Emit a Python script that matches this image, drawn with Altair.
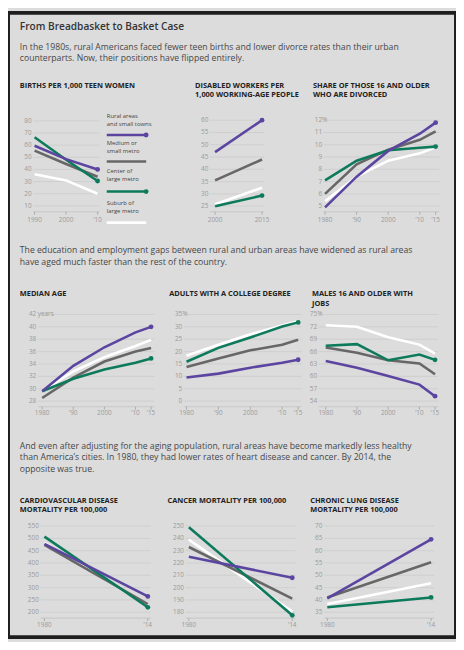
import altair as alt
import pandas as pd

FONT = "Open Sans"
OFF = 8

SERIES = ["rural", "medium", "center", "suburb"]
COLORS = {"rural": "#5b45a1", "medium": "#676767", "center": "#0c7a5b", "suburb": "#ffffff"}
DRAW_ORDER = ["suburb", "medium", "center", "rural"]
DOTTED = ["rural", "center"]
LEGEND_LABELS = [["Rural areas", "and small towns"], ["Medium or", "small metro"],
                 ["Center of", "large metro"], ["Suburb of", "large metro"]]

TITLE = "From Breadbasket to Basket Case"
PARA1 = ["In the 1980s, rural Americans faced fewer teen births and lower divorce rates than their urban",
         "counterparts. Now, their positions have flipped entirely."]
PARA2 = ["The education and employment gaps between rural and urban areas have widened as rural areas",
         "have aged much faster than the rest of the country."]
PARA3 = ["And even after adjusting for the aging population, rural areas have become markedly less healthy",
         "than America\u2019s cities. In 1980, they had lower rates of heart disease and cancer. By 2014, the",
         "opposite was true."]

PANEL_TITLES = [
    ["BIRTHS PER 1,000 TEEN WOMEN"],
    ["DISABLED WORKERS PER", "1,000 WORKING-AGE PEOPLE"],
    ["SHARE OF THOSE 16 AND OLDER", "WHO ARE DIVORCED"],
    ["MEDIAN AGE"],
    ["ADULTS WITH A COLLEGE DEGREE"],
    ["MALES 16 AND OLDER WITH", "JOBS"],
    ["CARDIOVASCULAR DISEASE", "MORTALITY PER 100,000"],
    ["CANCER MORTALITY PER 100,000"],
    ["CHRONIC LUNG DISEASE", "MORTALITY PER 100,000"],
]

# ---- data ----
YEARS_A = [1990, 2000, 2010]
XLAB_A = ["1990", "2000", "\u201910"]
BIRTHS = {"rural": [59.5, 48.5, 40.0], "medium": [55.5, 44.5, 34.0],
          "center": [66.5, 48.0, 30.5], "suburb": [36.0, 31.0, 20.0]}

YEARS_B = [2000, 2015]
XLAB_B = ["2000", "2015"]
DISABLED = {"rural": [47.0, 60.0], "medium": [35.5, 44.0],
            "center": [25.0, 29.3], "suburb": [25.8, 32.5]}

YEARS_C = [1980, 1990, 2000, 2010, 2015]
XLAB_C = ["1980", "\u201990", "2000", "\u201910", "\u201915"]
DIVORCED = {"rural": [4.9, 7.4, 9.5, 10.9, 11.8], "medium": [6.0, 8.4, 9.6, 10.4, 11.1],
            "center": [7.1, 8.7, 9.55, 9.75, 9.85], "suburb": [5.4, 7.4, 8.7, 9.3, 9.8]}
MEDIAN_AGE = {"rural": [29.6, 33.7, 36.7, 39.1, 40.0], "medium": [28.5, 31.8, 34.4, 36.0, 36.6],
              "center": [29.6, 31.6, 33.1, 34.2, 34.9], "suburb": [29.6, 32.8, 35.1, 36.9, 37.9]}
COLLEGE = {"rural": [9.5, 11.1, 13.5, 15.5, 16.7], "medium": [13.8, 17.2, 20.5, 22.8, 24.8],
           "center": [15.9, 21.5, 25.7, 30.1, 31.8], "suburb": [18.3, 22.8, 27.0, 30.5, 32.3]}
MALES_JOBS = {"rural": [63.7, 62.1, 60.1, 58.0, 55.2], "medium": [67.0, 65.7, 63.9, 63.1, 60.5],
              "center": [67.4, 67.8, 63.9, 65.3, 64.0], "suburb": [72.4, 72.0, 69.5, 67.7, 65.5]}

YEARS_D = [1980, 2014]
XLAB_D = ["1980", "\u201914"]
CARDIO = {"rural": [478, 264], "medium": [474, 233], "center": [507, 220], "suburb": [482, 227]}
CANCER = {"rural": [225, 208], "medium": [233, 191], "center": [249, 177.5], "suburb": [239, 180.5]}
LUNG = {"rural": [40.6, 64.6], "medium": [41, 55.3], "center": [37, 41], "suburb": [38.3, 46.8]}

GRID = "#c9c9c9"
TICK = "#9a9a9a"
TICK_SIZE = 6.5
DUMMY = pd.DataFrame({"a": [0]})


def P(v):
    return v - OFF


def panel(years, xlabels, values, xpx, ydom, ypx, yticks, ylab_right, suffix, grid, axis_y, xlab_y):
    xs = alt.Scale(domain=[years[0], years[-1]], range=[P(xpx[0]), P(xpx[1])], nice=False, zero=False)
    ys = alt.Scale(domain=ydom, range=[P(ypx[0]), P(ypx[1])], nice=False, zero=False)
    out = []
    gdf = pd.DataFrame({"v": yticks, "lab": [str(t) for t in yticks]})
    out.append(alt.Chart(gdf).mark_rule(color=GRID, strokeWidth=0.7).encode(
        y=alt.Y("v:Q", scale=ys, axis=None), x=alt.value(P(grid[0])), x2=alt.value(P(grid[1]))))
    out.append(alt.Chart(gdf).mark_text(align="right", baseline="middle", fontSize=TICK_SIZE, color=TICK,
                                        font=FONT).encode(
        y=alt.Y("v:Q", scale=ys, axis=None), x=alt.value(P(ylab_right)), text="lab:N"))
    if suffix:
        out.append(alt.Chart(gdf.iloc[[-1]]).mark_text(align="left", baseline="middle", fontSize=TICK_SIZE,
                                                       color=TICK, font=FONT,
                                                       dx=1.5 if suffix != "%" else 0).encode(
            y=alt.Y("v:Q", scale=ys, axis=None), x=alt.value(P(ylab_right)), text=alt.value(suffix)))
    out.append(alt.Chart(DUMMY).mark_rule(color="#bdbdbd", strokeWidth=0.7).encode(
        x=alt.value(P(grid[0])), x2=alt.value(P(grid[1])), y=alt.value(P(axis_y))))
    xdf = pd.DataFrame({"year": years, "lab": xlabels})
    out.append(alt.Chart(xdf).mark_rule(color="#9a9a9a", strokeWidth=0.7).encode(
        x=alt.X("year:Q", scale=xs, axis=None), y=alt.value(P(axis_y)), y2=alt.value(P(axis_y + 3))))
    out.append(alt.Chart(xdf).mark_text(align="center", baseline="middle", fontSize=TICK_SIZE, color=TICK,
                                        font=FONT).encode(
        x=alt.X("year:Q", scale=xs, axis=None), y=alt.value(P(xlab_y)), text="lab:N"))
    for s in DRAW_ORDER:
        df = pd.DataFrame({"year": years, "v": values[s]})
        out.append(alt.Chart(df).mark_line(color=COLORS[s], strokeWidth=2.6, strokeCap="butt").encode(
            x=alt.X("year:Q", scale=xs, axis=None), y=alt.Y("v:Q", scale=ys, axis=None)))
        if s in DOTTED:
            out.append(alt.Chart(df.iloc[[-1]]).mark_point(filled=True, opacity=1, size=24, color=COLORS[s]).encode(
                x=alt.X("year:Q", scale=xs, axis=None), y=alt.Y("v:Q", scale=ys, axis=None)))
    return out


def text(s, x, y, size, color, weight="normal"):
    return alt.Chart(DUMMY).mark_text(align="left", baseline="middle", fontSize=size, color=color,
                                      font=FONT, fontWeight=weight).encode(
        x=alt.value(P(x)), y=alt.value(P(y)), text=alt.value(s))


layers = []
layers += panel(YEARS_A, XLAB_A, BIRTHS, (35, 99), [10, 80], (204, 117.7), list(range(10, 81, 10)),
                32, None, (33.5, 101), 210, 218.5)
layers += panel(YEARS_B, XLAB_B, DISABLED, (218.3, 266), [25, 60], (204.3, 117), list(range(25, 61, 5)),
                211.5, None, (213, 268), 210, 218.5)
layers += panel(YEARS_C, XLAB_C, DIVORCED, (330, 442.3), [5, 12], (204.3, 117), list(range(5, 13)),
                327, "%", (328.5, 446), 210, 218.5)
layers += panel(YEARS_C, XLAB_C, MEDIAN_AGE, (42.7, 153.3), [28, 42], (402.3, 314.3), list(range(28, 43, 2)),
                36.7, "years", (38.5, 157), 408, 414.5)
layers += panel(YEARS_C, XLAB_C, COLLEGE, (189.3, 302.7), [0, 35], (402.3, 314.3), list(range(0, 36, 5)),
                185, "%", (186.5, 306), 408, 414.5)
layers += panel(YEARS_C, XLAB_C, MALES_JOBS, (330.7, 441.7), [54, 75], (402.3, 314.3), list(range(54, 76, 3)),
                322, "%", (323.5, 445), 408, 414.5)
layers += panel(YEARS_D, XLAB_D, CARDIO, (45, 150), [200, 550], (616.7, 529.2), list(range(200, 551, 50)),
                39.3, None, (41, 153), 622.7, 630)
layers += panel(YEARS_D, XLAB_D, CANCER, (191.7, 296.7), [180, 250], (616.7, 529.2), list(range(180, 251, 10)),
                186.7, None, (188.5, 300), 622.7, 630)
layers += panel(YEARS_D, XLAB_D, LUNG, (332.3, 437.7), [35, 70], (616.7, 529.2), list(range(35, 71, 5)),
                327.3, None, (329, 441), 622.7, 630)

# legend
LEG_TEXT_Y = [112.5, 140, 169, 201]
LEG_LINE_Y = [132, 159, 189.5, 221]
for s, lab, ty, ly in zip(SERIES, LEGEND_LABELS, LEG_TEXT_Y, LEG_LINE_Y):
    layers.append(text(lab[0], 108.3, ty, 6.0, "#444444"))
    layers.append(text(lab[1], 108.3, ty + 8, 6.0, "#444444"))
    layers.append(alt.Chart(DUMMY).mark_rule(color=COLORS[s], strokeWidth=2.6).encode(
        x=alt.value(P(108.3)), x2=alt.value(P(148.3)), y=alt.value(P(ly))))
    if s in DOTTED:
        layers.append(alt.Chart(DUMMY).mark_point(filled=True, opacity=1, size=24, color=COLORS[s]).encode(
            x=alt.value(P(148.3)), y=alt.value(P(ly))))

# texts
layers.append(text(TITLE, 20, 22.3, 10.3, "#333333", 600))
for i, line in enumerate(PARA1):
    layers.append(text(line, 20, 42.7 + 11 * i, 8.8, "#474747"))
for i, line in enumerate(PARA2):
    layers.append(text(line, 20, 249 + 12 * i, 8.8, "#474747"))
for i, line in enumerate(PARA3):
    layers.append(text(line, 20, 447.5 + 11.8 * i, 8.8, "#474747"))

TITLE_POS = [(20, 82.5), (198, 82.5), (317.7, 82.5), (20, 294), (171.7, 294), (316.7, 294),
             (20, 503.3), (170, 503.3), (315, 503.3)]
for lines, (tx, ty) in zip(PANEL_TITLES, TITLE_POS):
    for i, line in enumerate(lines):
        layers.append(text(line, tx, ty + 9.3 * i, 7.5, "#222222", "bold"))

chart = alt.layer(*layers).resolve_scale(x="independent", y="independent").properties(
    width=455, height=634, padding=0, autosize=alt.AutoSizeParams(type="none"),
    background="#dcdcdc",
).configure_view(stroke="#1e1e1e", strokeWidth=4)

chart.save("out.html", embed_options={"renderer": "svg", "actions": False})
